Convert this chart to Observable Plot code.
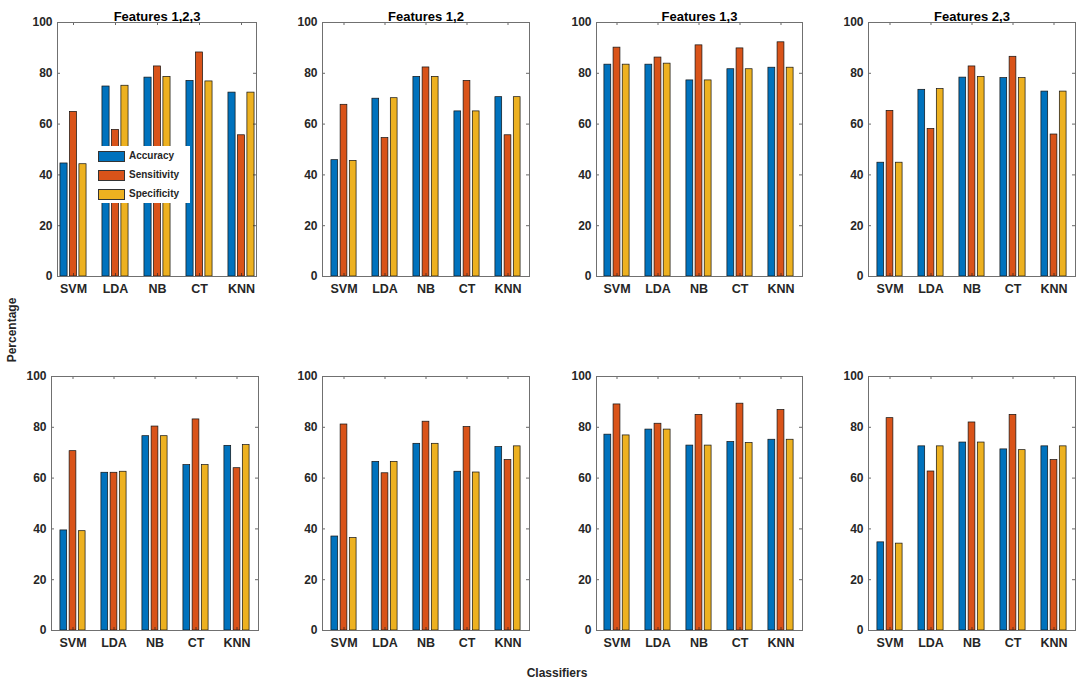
<!DOCTYPE html>
<html>
<head>
<meta charset="utf-8">
<script src="https://cdn.jsdelivr.net/npm/d3@7"></script>
<script src="https://cdn.jsdelivr.net/npm/@observablehq/plot@0.6"></script>
<style>
  html, body { margin: 0; padding: 0; background: #fff; }
  #root { position: relative; width: 1084px; height: 687px; background: #fff; overflow: hidden;
          font-family: "Liberation Sans", Arial, Helvetica, sans-serif; color: #262626; }
  .panel { position: absolute; }
  .lbl { position: absolute; font-weight: bold; font-size: 12px; white-space: nowrap; }
  #legend { position: absolute; background: #fff; }
  .lrow { position: absolute; left: 1px; height: 11px; font-size: 10px; font-weight: bold; }
  .sw { position: absolute; left: 0; top: 0; width: 27px; height: 11px; box-sizing: border-box; border: 0.5px solid #333; }
  .lt { position: absolute; left: 31px; top: -1px; }
</style>
</head>
<body>
<div id="root"></div>
<script>
// ---------- data ----------
const classifiers = ["SVM", "LDA", "NB", "CT", "KNN"];
const metrics = ["Accuracy", "Sensitivity", "Specificity"];
const yTicks = [0, 20, 40, 60, 80, 100];
const panelTitles = ["Features 1,2,3", "Features 1,2", "Features 1,3", "Features 2,3", "", "", "", ""];

// row 1
const p1Accuracy    = [44.5, 74.8, 78.3, 77.0, 72.4];
const p1Sensitivity = [64.8, 57.7, 82.7, 88.2, 55.6];
const p1Specificity = [44.2, 75.1, 78.6, 76.8, 72.4];

const p2Accuracy    = [45.8, 70.0, 78.6, 65.0, 70.6];
const p2Sensitivity = [67.6, 54.5, 82.3, 77.0, 55.6];
const p2Specificity = [45.5, 70.2, 78.6, 65.0, 70.6];

const p3Accuracy    = [83.4, 83.4, 77.2, 81.6, 82.2];
const p3Sensitivity = [90.1, 86.2, 91.0, 89.8, 92.2];
const p3Specificity = [83.4, 83.8, 77.2, 81.6, 82.2];

const p4Accuracy    = [44.8, 73.5, 78.3, 78.1, 72.8];
const p4Sensitivity = [65.2, 58.1, 82.7, 86.5, 55.9];
const p4Specificity = [44.8, 73.8, 78.6, 78.1, 72.8];

// row 2
const p5Accuracy    = [39.4, 62.1, 76.5, 65.1, 72.7];
const p5Sensitivity = [70.6, 62.1, 80.3, 83.1, 63.9];
const p5Specificity = [39.1, 62.5, 76.5, 65.1, 73.0];

const p6Accuracy    = [37.0, 66.4, 73.5, 62.5, 72.2];
const p6Sensitivity = [81.1, 61.9, 82.2, 80.1, 67.1];
const p6Specificity = [36.4, 66.4, 73.5, 62.2, 72.5];

const p7Accuracy    = [77.1, 79.1, 72.8, 74.2, 75.1];
const p7Sensitivity = [89.0, 81.4, 84.9, 89.3, 86.8];
const p7Specificity = [76.8, 79.1, 72.8, 73.8, 75.1];

const p8Accuracy    = [34.7, 72.5, 74.0, 71.3, 72.5];
const p8Sensitivity = [83.6, 62.6, 81.9, 84.9, 67.1];
const p8Specificity = [34.2, 72.5, 74.0, 71.0, 72.5];

const panelSeries = [
  [p1Accuracy, p1Sensitivity, p1Specificity],
  [p2Accuracy, p2Sensitivity, p2Specificity],
  [p3Accuracy, p3Sensitivity, p3Specificity],
  [p4Accuracy, p4Sensitivity, p4Specificity],
  [p5Accuracy, p5Sensitivity, p5Specificity],
  [p6Accuracy, p6Sensitivity, p6Specificity],
  [p7Accuracy, p7Sensitivity, p7Specificity],
  [p8Accuracy, p8Sensitivity, p8Specificity]
];

// ---------- layout & style ----------
const colors = ["#0072BD", "#D95319", "#EDB120"];
const frameLefts = [[57, 322, 596, 868], [51, 322, 596, 868]];
const frameWidths = [[199, 207, 206, 207], [207, 207, 206, 207]];
const frameTops = [22, 376];
const frameH = 254;
const tight = [true, false, false, false, false, false, false, false];
const axisColor = "#262626";
const boxColor = "#707070";

const root = document.getElementById("root");

function makePanel(i) {
  const row = Math.floor(i / 4), col = i % 4;
  const L = frameLefts[row][col], W = frameWidths[row][col], T = frameTops[row], H = frameH;
  const mL = 40, mR = 8, mT = 24, mB = 30;
  const pi = 1 / 3, po = tight[i] ? 0 : 1 / 6;
  const step = W / (classifiers.length - pi + 2 * po);
  const bw = step * (1 - pi);
  const sub = bw / metrics.length;

  const rows = classifiers.map((c, k) => {
    const r = {classifier: c};
    metrics.forEach((m, j) => { r[m] = panelSeries[i][j][k]; });
    return r;
  });

  const marks = [];
  metrics.forEach((m, j) => {
    marks.push(Plot.barY(rows, {
      x: "classifier", y: m, fill: colors[j],
      stroke: "#111", strokeWidth: 0.7,
      insetLeft: j * sub + 0.1 * sub,
      insetRight: (metrics.length - 1 - j) * sub + 0.1 * sub
    }));
  });
  // inward ticks (MATLAB style) on all four sides
  marks.push(Plot.tickY(yTicks, {y: d => d, insetRight: W - 3, stroke: axisColor, strokeWidth: 0.7}));
  marks.push(Plot.tickY(yTicks, {y: d => d, insetLeft: W - 3, stroke: axisColor, strokeWidth: 0.7}));
  marks.push(Plot.tickX(classifiers, {x: d => d, insetTop: H - 3, stroke: axisColor, strokeWidth: 0.7}));
  marks.push(Plot.tickX(classifiers, {x: d => d, insetBottom: H - 3, stroke: axisColor, strokeWidth: 0.7}));
  marks.push(Plot.frame({stroke: boxColor, strokeWidth: 1}));
  marks.push(Plot.axisY({ticks: yTicks, tickSize: 0, tickPadding: 5, label: null, fill: axisColor,
                         fontSize: 12, fontWeight: "bold"}));
  marks.push(Plot.axisX({tickSize: 0, tickPadding: 8, label: null, fill: axisColor,
                         fontSize: 12.5, fontWeight: "bold"}));
  if (panelTitles[i]) {
    marks.push(Plot.text([panelTitles[i]], {text: d => d, frameAnchor: "top", dy: -11,
                                            fontSize: 13, fontWeight: "bold", fill: "#000"}));
  }

  const chart = Plot.plot({
    width: mL + W + mR,
    height: mT + H + mB,
    marginLeft: mL, marginRight: mR, marginTop: mT, marginBottom: mB,
    x: {type: "band", domain: classifiers, paddingInner: pi, paddingOuter: po, align: 0.5},
    y: {domain: [0, 100]},
    style: {background: "transparent", overflow: "visible",
            fontFamily: '"Liberation Sans", Arial, Helvetica, sans-serif'},
    marks
  });
  const wrap = document.createElement("div");
  wrap.className = "panel";
  wrap.style.left = (L - mL) + "px";
  wrap.style.top = (T - mT) + "px";
  wrap.appendChild(chart);
  root.appendChild(wrap);
}

for (let i = 0; i < 8; i++) makePanel(i);

// legend inside first panel
const legend = document.createElement("div");
legend.id = "legend";
legend.style.left = "97px"; legend.style.top = "146px";
legend.style.width = "93px"; legend.style.height = "57px";
metrics.forEach((m, j) => {
  const r = document.createElement("div");
  r.className = "lrow";
  r.style.top = (5 + j * 19) + "px";
  r.innerHTML = `<div class="sw" style="background:${colors[j]}"></div><div class="lt"></div>`;
  r.querySelector(".lt").textContent = m;
  legend.appendChild(r);
});
root.appendChild(legend);

// shared axis labels
const yl = document.createElement("div");
yl.className = "lbl";
yl.textContent = "Percentage";
yl.style.left = "12px"; yl.style.top = "330px";
yl.style.transform = "translate(-50%, -50%) rotate(-90deg)";
root.appendChild(yl);

const xl = document.createElement("div");
xl.className = "lbl";
xl.textContent = "Classifiers";
xl.style.left = "557px"; xl.style.top = "673px";
xl.style.transform = "translate(-50%, -50%)";
root.appendChild(xl);
</script>
</body>
</html>
